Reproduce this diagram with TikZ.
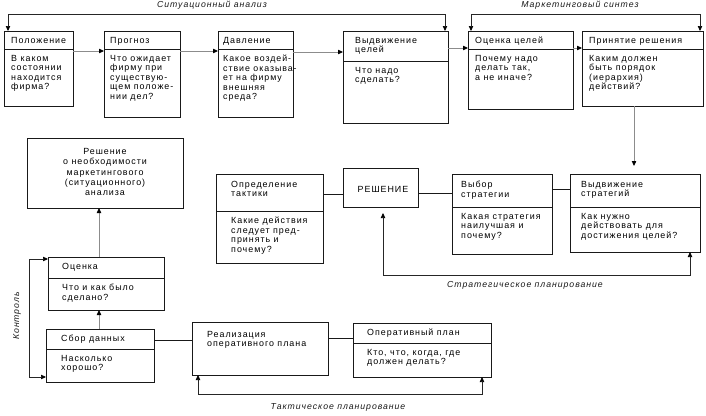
\documentclass[tikz,border=0pt]{standalone}
\usepackage{fontspec}
\setmainfont{Liberation Sans}[LetterSpace=11]
\usetikzlibrary{arrows.meta}
\newcommand\mkbox[5]{\node[box,minimum width={(#4-#2)*1pt},minimum height={(#5-#3)*1pt}] (#1) at (#2,#3) {};}
\newcommand\mkdiv[2]{\draw[boxline] (#1.west |- 0,#2) -- (#1.east |- 0,#2);}
\tikzset{
  box/.style={draw=black!90, line width=0.75pt, rectangle, inner sep=0pt, outer sep=0pt, anchor=north west},
  boxline/.style={draw=black!90, line width=0.75pt},
  txt/.style={anchor=north west, inner sep=0pt, align=left, text=black, font=\fontsize{8.9}{9.5}\selectfont},
  lab/.style={inner sep=0pt, text=black!90, font=\fontsize{8.7}{9.5}\selectfont\itshape},
  garr/.style={draw=black!45, line width=0.9pt, ->},
  darr/.style={draw=black!85, line width=0.7pt},
  dline/.style={draw=black!90, line width=0.7pt},
}
\begin{document}
\begin{tikzpicture}[x=1pt,y=-1pt,>={Triangle[length=5pt,width=4.4pt,black]}]
\fill[white] (0,0) rectangle (706,415);
\useasboundingbox (0,0) rectangle (706,415);

% ---- top row
\mkbox{pol}{4}{31}{73}{106}\mkdiv{pol}{49}
\mkbox{prog}{104}{31}{180}{117}\mkdiv{prog}{49}
\mkbox{davl}{218}{31}{293}{117}\mkdiv{davl}{49}
\mkbox{vyd}{343}{31}{448}{123}\mkdiv{vyd}{61}
\mkbox{ots}{468}{31}{573}{109}\mkdiv{ots}{49}
\mkbox{prin}{582}{31}{703}{106}\mkdiv{prin}{49}

\node[txt] (pol-t) at (11,37) {Положение};
\node[txt] (pol-b) at (11,55) {В каком\\состоянии\\находится\\фирма?};
\node[txt] (prog-t) at (110,37) {Прогноз};
\node[txt] (prog-b) at (110,55) {Что ожидает\\фирму при\\существую-\\щем положе-\\нии дел?};
\node[txt] (davl-t) at (223,37) {Давление};
\node[txt,font=\fontsize{8.8}{9.5}\selectfont] (davl-b) at (223,55) {Какое воздей-\\ствие оказыва-\\ет на фирму\\внешняя\\среда?};
\node[txt] (vyd-t) at (355,37) {Выдвижение\\целей};
\node[txt] (vyd-b) at (355,67) {Что надо\\сделать?};
\node[txt] (ots-t) at (475,37) {Оценка целей};
\node[txt] (ots-b) at (475,55) {Почему надо\\делать так,\\а не иначе?};
\node[txt] (prin-t) at (589,37) {Принятие решения};
\node[txt] (prin-b) at (589,55) {Каким должен\\быть порядок\\(иерархия)\\действий?};

\draw[garr] (pol.east |- 0,51) -- (prog.west |- 0,51);
\draw[garr] (prog.east |- 0,51) -- (davl.west |- 0,51);
\draw[garr] (davl.east |- 0,52) -- (vyd.west |- 0,52);
\draw[garr] (vyd.east |- 0,48) -- (ots.west |- 0,48);
\draw[garr] (ots.east |- 0,48) -- (prin.west |- 0,48);

\coordinate (sitL) at (8,14);
\coordinate (sitR) at (445,14);
\draw[darr,<->] (pol.north -| sitL) -- (sitL) -- (sitR) -- (vyd.north -| sitR);
\node[lab] (sit-l) at (212,5.5) {Ситуационный анализ};

\coordinate (msL) at (471,14);
\coordinate (msR) at (700,14);
\draw[darr,<->] (ots.north -| msL) -- (msL) -- (msR) -- (prin.north -| msR);
\node[lab] (ms-l) at (580,5.5) {Маркетинговый синтез};

% ---- second row
\mkbox{opr}{216}{174}{323}{263}\mkdiv{opr}{211}
\mkbox{resh}{343}{168}{418}{207}
\mkbox{vybor}{452}{174}{552}{254}\mkdiv{vybor}{207}
\mkbox{vydstr}{570}{174}{700}{252}\mkdiv{vydstr}{207}

\node[txt] (opr-t) at (231,181) {Определение\\тактики};
\node[txt] (opr-b) at (231,217) {Какие действия\\следует пред-\\принять и\\почему?};
\node[txt,anchor=center] (resh-t) at (383,189) {РЕШЕНИЕ};
\node[txt] (vybor-t) at (461,181) {Выбор\\стратегии};
\node[txt] (vybor-b) at (461,213) {Какая стратегия\\наилучшая и\\почему?};
\node[txt] (vydstr-t) at (581,181) {Выдвижение\\стратегий};
\node[txt] (vydstr-b) at (581,213) {Как нужно\\действовать для\\достижения целей?};

\coordinate (pv) at (634,0);
\draw[garr, shorten >=8pt] (prin.south -| pv) -- (vydstr.north -| pv);

\draw[dline] (opr.east |- 0,194) -- (resh.west |- 0,194);
\draw[dline] (resh.east |- 0,193) -- (vybor.west |- 0,193);
\draw[dline] (vybor.east |- 0,189) -- (vydstr.west |- 0,189);

\coordinate (stL) at (383,275);
\coordinate (stR) at (690,275);
\draw[darr,<->, shorten <=6pt] (resh.south -| stL) -- (stL) -- (stR) -- (vydstr.south -| stR);
\node[lab] (st-l) at (525,285.5) {Стратегическое планирование};

% ---- left column and bottom
\mkbox{rdec}{27}{138}{183}{208}
\node[txt,anchor=north,align=center,font=\fontsize{8.9}{10.4}\selectfont] (rdec-t) at (105,148) {Решение\\о необходимости\\маркетингового\\(ситуационного)\\анализа};

\mkbox{otsenka}{48}{257}{164}{310}\mkdiv{otsenka}{278}
\node[txt] (otsenka-t) at (62,263) {Оценка};
\node[txt] (otsenka-b) at (62,284) {Что и как было\\сделано?};

\mkbox{sbor}{46}{329}{154}{382}\mkdiv{sbor}{349}
\node[txt] (sbor-t) at (61,335) {Сбор данных};
\node[txt] (sbor-b) at (61,355) {Насколько\\хорошо?};

\coordinate (vx) at (99,0);
\draw[garr] (otsenka.north -| vx) -- (rdec.south -| vx);
\draw[garr] (sbor.north -| vx) -- (otsenka.south -| vx);

\coordinate (kT) at (29,259);
\coordinate (kB) at (29,377);
\draw[darr,<->] (otsenka.west |- kT) -- (kT) -- (kB) -- (sbor.west |- kB);
\node[lab,rotate=90] (k-l) at (17,316) {Контроль};

\mkbox{real}{192}{322}{328}{375}
\node[txt] (real-t) at (207,331) {Реализация\\оперативного плана};

\mkbox{oper}{353}{323}{491}{377}\mkdiv{oper}{343}
\node[txt] (oper-t) at (367,329) {Оперативный план};
\node[txt] (oper-b) at (367,349) {Кто, что, когда, где\\должен делать?};

\draw[dline] (sbor.east |- 0,340) -- (real.west |- 0,340);
\draw[dline] (real.east |- 0,338) -- (oper.west |- 0,338);

\coordinate (tkL) at (198,394);
\coordinate (tkR) at (482,394);
\draw[darr,<->] (real.south -| tkL) -- (tkL) -- (tkR) -- (oper.south -| tkR);
\node[lab] (tk-l) at (338,407) {Тактическое планирование};
\end{tikzpicture}
\end{document}
